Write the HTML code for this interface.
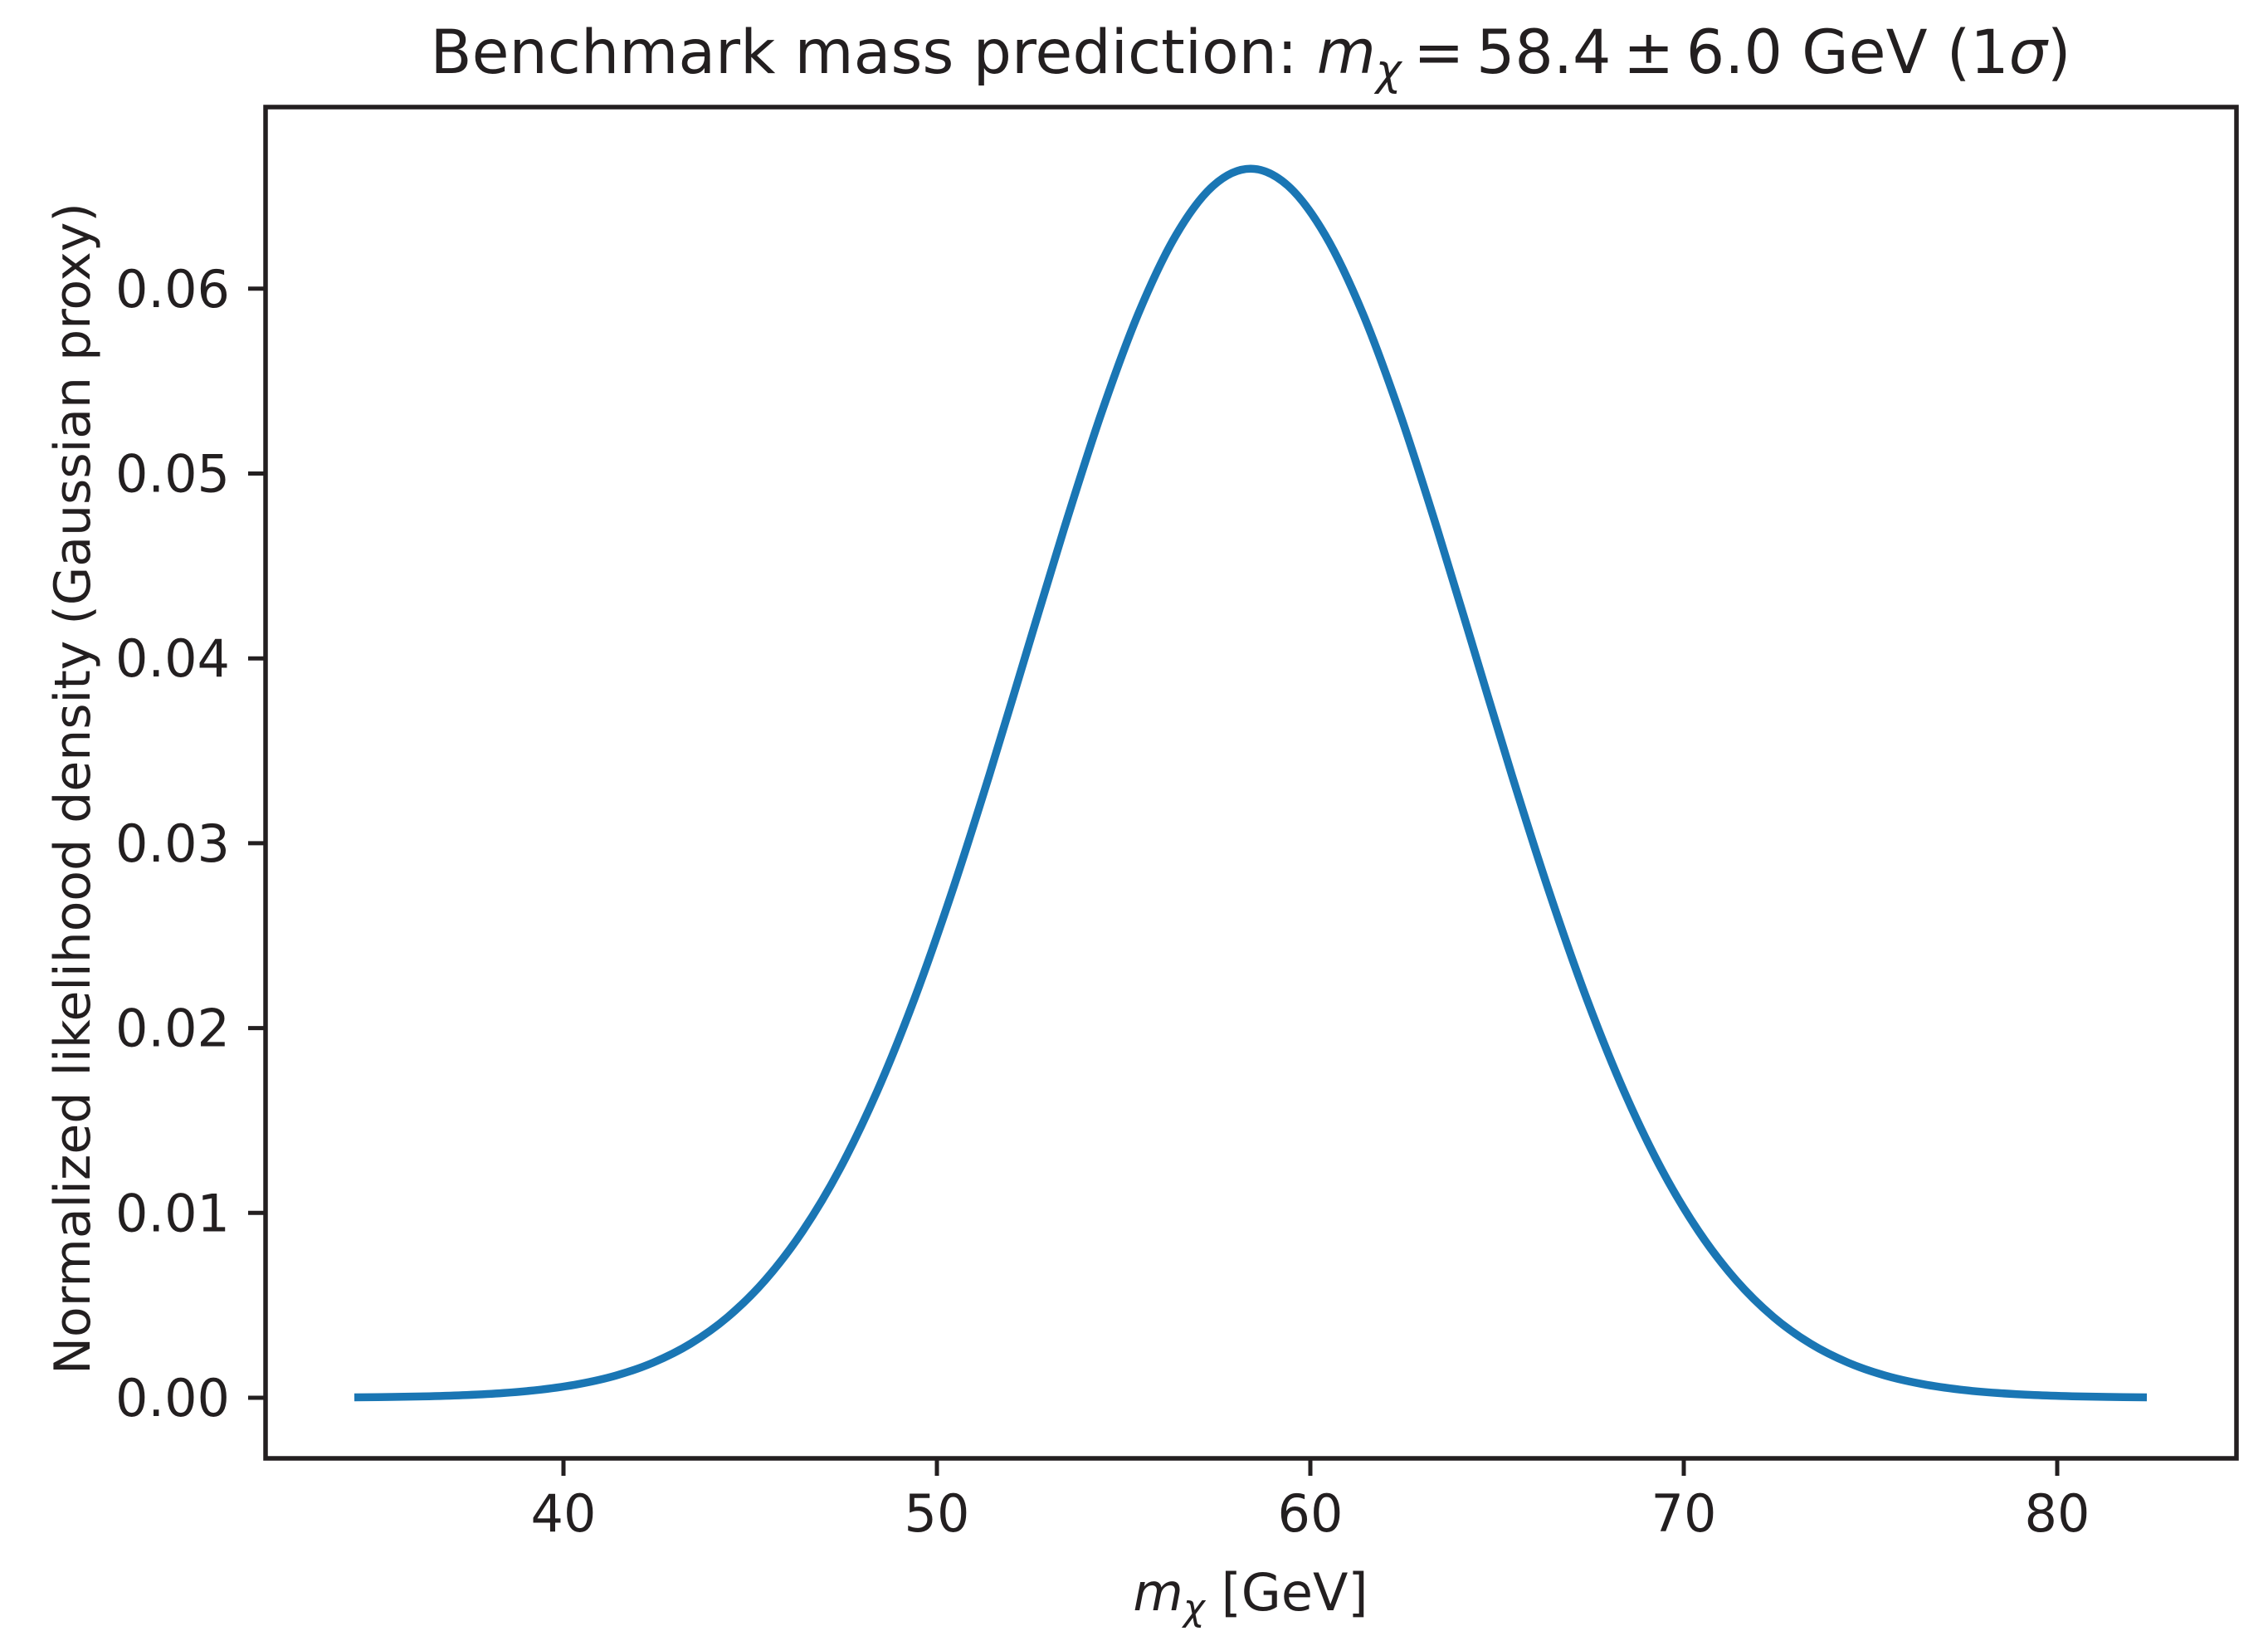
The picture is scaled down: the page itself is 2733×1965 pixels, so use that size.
<!DOCTYPE html>
<html><head><meta charset="utf-8"><style>
html,body{margin:0;padding:0;background:#fff;}
svg{display:block;font-family:"DejaVu Sans","Liberation Sans",sans-serif;}
</style></head><body>
<svg id="chart" width="2733" height="1965" viewBox="0 0 2733 1965" xmlns="http://www.w3.org/2000/svg">
<rect x="0" y="0" width="2733" height="1965" fill="#fff"/>
<text x="1507" y="88" font-size="73" text-anchor="middle" fill="#231f20">Benchmark mass prediction: <tspan font-style="italic">m</tspan><tspan font-style="italic" font-size="52" dy="14">χ</tspan><tspan dy="-14">&#8201;=&#8201;58.4&#8201;±&#8201;6.0 GeV (1</tspan><tspan font-style="italic">σ</tspan>)</text>
<g id="plot"></g>
<rect x="320" y="129" width="2375" height="1628" fill="none" stroke="#231f20" stroke-width="5.5"/>
<g id="xticks"></g>
<g id="yticks"></g>
<text x="1507" y="1940" font-size="62" text-anchor="middle" fill="#231f20"><tspan font-style="italic">m</tspan><tspan font-style="italic" font-size="44" dy="12">χ</tspan><tspan dy="-12"> [GeV]</tspan></text>
<text transform="translate(108,950) rotate(-90)" font-size="60" text-anchor="middle" fill="#231f20">Normalized likelihood density (Gaussian proxy)</text>
</svg>
<script>
const massGeV = [34.4,35.4,36.4,37.4,38.4,39.4,40.4,41.4,42.4,43.4,44.4,45.4,46.4,47.4,48.4,49.4,50.4,51.4,52.4,53.4,54.4,55.4,56.4,57.4,58.4,59.4,60.4,61.4,62.4,63.4,64.4,65.4,66.4,67.4,68.4,69.4,70.4,71.4,72.4,73.4,74.4,75.4,76.4,77.4,78.4,79.4,80.4,81.4,82.4];
const density = [0.0000223,0.0000428,0.00008,0.000145,0.000257,0.000442,0.000739,0.0012,0.0019,0.00292,0.00437,0.00636,0.009,0.01238,0.01658,0.02159,0.02734,0.03366,0.04033,0.04698,0.05324,0.05868,0.06289,0.06557,0.06649,0.06557,0.06289,0.05868,0.05324,0.04698,0.04033,0.03366,0.02734,0.02159,0.01658,0.01238,0.009,0.00636,0.00437,0.00292,0.0019,0.0012,0.000739,0.000442,0.000257,0.000145,0.00008,0.0000428,0.0000223];
const xTickValues = [40,50,60,70,80];
const xTickLabels = ["40","50","60","70","80"];
const yTickValues = [0,0.01,0.02,0.03,0.04,0.05,0.06];
const yTickLabels = ["0.00","0.01","0.02","0.03","0.04","0.05","0.06"];

const NS="http://www.w3.org/2000/svg";
function xScale(v){return 679+(v-40)*45;}
function yScale(v){return 1684-v*22270;}

const plot=document.getElementById('plot');
const pts=massGeV.map((m,i)=>[xScale(m),yScale(density[i])]);
let d="M"+pts[0][0]+","+pts[0][1];
for(let i=0;i<pts.length-1;i++){
  const p0=pts[Math.max(0,i-1)],p1=pts[i],p2=pts[i+1],p3=pts[Math.min(pts.length-1,i+2)];
  const c1x=p1[0]+(p2[0]-p0[0])/6,c1y=p1[1]+(p2[1]-p0[1])/6;
  const c2x=p2[0]-(p3[0]-p1[0])/6,c2y=p2[1]-(p3[1]-p1[1])/6;
  d+=" C"+c1x+","+c1y+" "+c2x+","+c2y+" "+p2[0]+","+p2[1];
}
const path=document.createElementNS(NS,'path');


path.setAttribute('d',d);
path.setAttribute('fill','none');
path.setAttribute('stroke','#1a76b4');
path.setAttribute('stroke-width','9.5');
plot.appendChild(path);

const xg=document.getElementById('xticks');
xTickValues.forEach((v,i)=>{
  const x=xScale(v);
  const t=document.createElementNS(NS,'line');
  
  
  t.setAttribute('x1',x);t.setAttribute('x2',x);t.setAttribute('y1',1757);t.setAttribute('y2',1778);
  t.setAttribute('stroke','#231f20');t.setAttribute('stroke-width','5');
  xg.appendChild(t);
  const l=document.createElementNS(NS,'text');
  
  
  l.setAttribute('x',x);l.setAttribute('y',1845);
  l.setAttribute('font-size','62');l.setAttribute('text-anchor','middle');l.setAttribute('fill','#231f20');
  l.textContent=xTickLabels[i];
  xg.appendChild(l);
});
const yg=document.getElementById('yticks');
yTickValues.forEach((v,i)=>{
  const y=yScale(v);
  const t=document.createElementNS(NS,'line');
  
  
  t.setAttribute('x1',299);t.setAttribute('x2',320);t.setAttribute('y1',y);t.setAttribute('y2',y);
  t.setAttribute('stroke','#231f20');t.setAttribute('stroke-width','5');
  yg.appendChild(t);
  const l=document.createElementNS(NS,'text');
  
  
  l.setAttribute('x',277);l.setAttribute('y',y+22);
  l.setAttribute('font-size','62');l.setAttribute('text-anchor','end');l.setAttribute('fill','#231f20');
  l.textContent=yTickLabels[i];
  yg.appendChild(l);
});
</script>
</body></html>
